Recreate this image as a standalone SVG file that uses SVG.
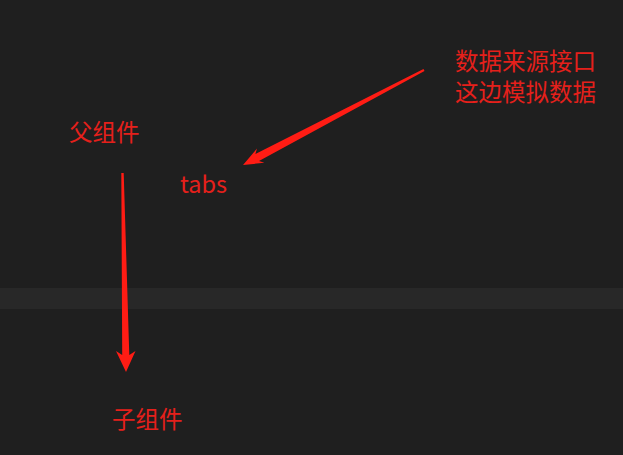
<svg xmlns="http://www.w3.org/2000/svg" width="623" height="455" viewBox="0 0 623 455">
<style>
.t{font-family:"Noto Sans CJK SC","Microsoft YaHei",sans-serif;font-size:23.5px;fill:#e5201b}
.a{fill:#ff1c14}
</style>
<rect width="623" height="455" fill="#1f1f1f"/>
<rect x="0" y="288" width="623" height="21" fill="#282828"/>
<g id="source"><text class="t" x="455" y="70">数据来源接口</text><text class="t" x="455" y="101">这边模拟数据</text></g>
<g id="parent"><text class="t" x="69" y="141">父组件</text></g>
<g id="tabs"><text class="t" x="180" y="193">tabs</text></g>
<g id="child"><text class="t" x="112" y="428">子组件</text></g>
<g id="connectors">
<polygon class="a" points="424.5,70.9 259,161 264.4,162.8 243,165 257,148.6 255.4,154 423.5,69.1"/>
<polygon class="a" points="121.3,173 123.7,173 129.3,355 135.5,351 126,372 116,351 122.2,355"/>
</g>
</svg>
